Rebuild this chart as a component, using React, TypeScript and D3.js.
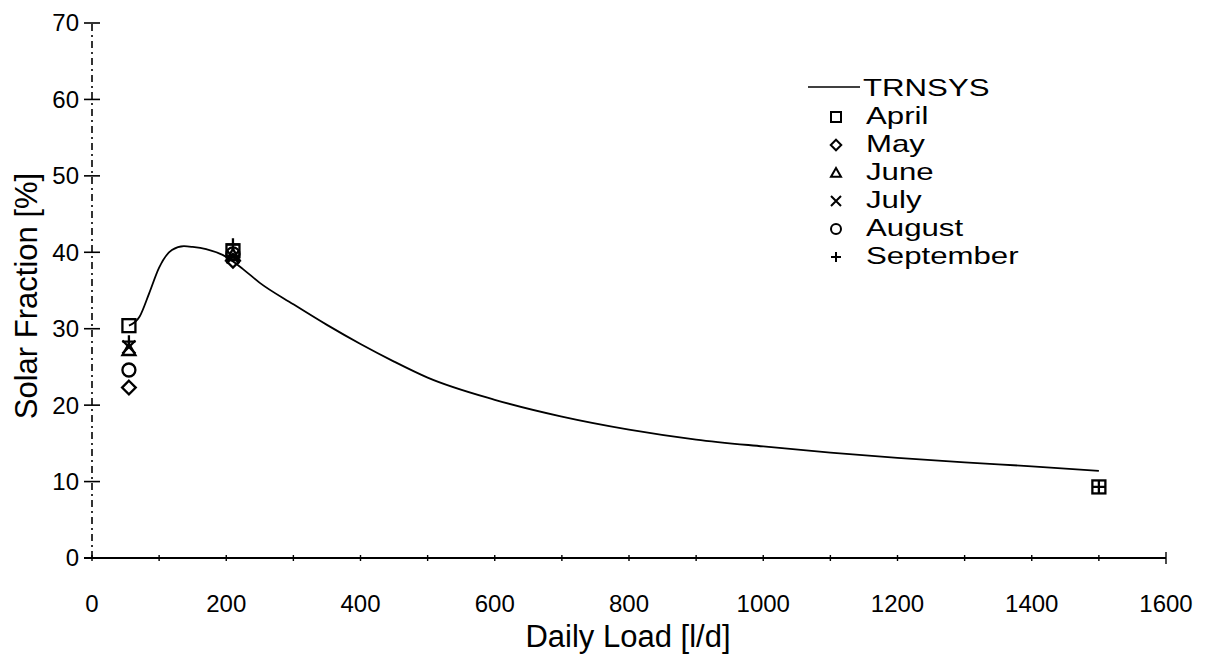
import React from "react";
import * as d3 from "d3";

// TRNSYS simulated curve (Daily Load [l/d] -> Solar Fraction [%])
const curveLoad = [55, 71, 85, 100, 119, 137, 150, 170, 200, 225, 250, 300, 350, 400, 450, 500, 600, 700, 800, 900, 1000, 1100, 1200, 1300, 1400, 1500];
const curveFraction = [30.4, 31.6, 34.6, 38.0, 40.3, 40.8, 40.7, 40.4, 39.4, 37.8, 36.0, 33.2, 30.5, 28.0, 25.7, 23.6, 20.7, 18.5, 16.8, 15.5, 14.6, 13.8, 13.1, 12.5, 12.0, 11.4];

// Measured points per month at the three tested loads (null = not shown)
const measuredLoads = [55, 210, 1500];
const months = ["April", "May", "June", "July", "August", "September"];
const aprilValues = [30.4, 40.2, 9.3];
const mayValues = [22.3, 38.9, null];
const juneValues = [27.2, 39.6, null];
const julyValues = [27.6, 39.4, null];
const augustValues = [24.6, 39.8, null];
const septemberValues = [28.3, 41.0, 9.3];

const xTickLabels = [0, 200, 400, 600, 800, 1000, 1200, 1400, 1600];
const xMinorTicks = d3.range(0, 1601, 100);
const yTickLabels = [0, 10, 20, 30, 40, 50, 60, 70];

const xTitle = "Daily Load [l/d]";
const yTitle = "Solar Fraction [%]";
const legendLine = "TRNSYS";

const monthValues = [aprilValues, mayValues, juneValues, julyValues, augustValues, septemberValues];
const monthSymbols = ["square", "diamond", "triangle", "cross", "circle", "plus"];

const FONT = "'Liberation Sans', Arial, sans-serif";

function Marker({ type, x, y, s, sw }: { type: string; x: number; y: number; s: number; sw: number }) {
  const h = s / 2;
  const common = { fill: "none", stroke: "#000", strokeWidth: sw };
  switch (type) {
    case "square":
      return <rect x={x - h} y={y - h} width={s} height={s} {...common} />;
    case "diamond":
      return <path d={`M${x},${y - h * 1.05}L${x + h * 1.05},${y}L${x},${y + h * 1.05}L${x - h * 1.05},${y}Z`} {...common} />;
    case "triangle":
      return <path d={`M${x},${y - h}L${x + h},${y + h * 0.75}L${x - h},${y + h * 0.75}Z`} {...common} />;
    case "cross":
      return <path d={`M${x - h},${y - h}L${x + h},${y + h}M${x + h},${y - h}L${x - h},${y + h}`} {...common} />;
    case "circle":
      return <circle cx={x} cy={y} r={h} {...common} />;
    case "plus":
      return <path d={`M${x - h},${y}L${x + h},${y}M${x},${y - h}L${x},${y + h}`} {...common} />;
    default:
      return null;
  }
}

export default function App() {
  const width = 1206;
  const height = 657;
  const x = d3.scaleLinear().domain([0, 1600]).range([92, 1166]);
  const y = d3.scaleLinear().domain([0, 70]).range([558, 23]);

  const line = d3
    .line<number>()
    .x((_, i) => x(curveLoad[i]))
    .y((d) => y(d))
    .curve(d3.curveMonotoneX);

  const legendX = 836;
  const legendY0 = 87;
  const legendStep = 28;
  const legendFont = 24;
  const legendStretch = 1.3;

  return (
    <svg
      width={width}
      height={height}
      style={{ position: "absolute", left: 0, top: 0, background: "#fff" }}
      fontFamily={FONT}
    >
      <rect width={width} height={height} fill="#fff" />
      {/* Y axis (broken, scanned look) */}
      <line x1={x(0)} x2={x(0)} y1={y(0)} y2={y(70)} stroke="#000" strokeWidth={1.6} strokeDasharray="7 4 2 4" />
      {yTickLabels.map((t) => (
        <g key={"yt" + t}>
          <line x1={x(0) - 8} x2={x(0) + 8} y1={y(t)} y2={y(t)} stroke="#000" strokeWidth={1.6} />
          <text x={x(0) - 13} y={y(t)} dy="0.35em" textAnchor="end" fontSize={24}>
            {t}
          </text>
        </g>
      ))}
      {/* X axis */}
      <line x1={x(0) - 8} x2={x(1600)} y1={y(0)} y2={y(0)} stroke="#000" strokeWidth={2} />
      {xMinorTicks.map((t) => (
        <line key={"xm" + t} x1={x(t)} x2={x(t)} y1={y(0) - (t === 1600 ? 6 : 3)} y2={y(0) + (t === 1600 ? 6 : 3)} stroke="#000" strokeWidth={1.4} />
      ))}
      {xTickLabels.map((t) => (
        <text key={"xt" + t} x={x(t)} y={612} textAnchor="middle" fontSize={24}>
          {t}
        </text>
      ))}
      <text x={628} y={647} textAnchor="middle" fontSize={31}>
        {xTitle}
      </text>
      <text transform={`translate(37,296) rotate(-90)`} textAnchor="middle" fontSize={31}>
        {yTitle}
      </text>

      {/* TRNSYS curve */}
      <path d={line(curveFraction) || ""} fill="none" stroke="#000" strokeWidth={1.8} />

      {/* Measured points */}
      {monthValues.map((vals, mi) =>
        vals.map((v, i) =>
          v == null ? null : (
            <Marker key={`m${mi}-${i}`} type={monthSymbols[mi]} x={x(measuredLoads[i])} y={y(v)} s={13} sw={2.3} />
          )
        )
      )}

      {/* Legend */}
      <line x1={808} x2={860} y1={legendY0} y2={legendY0} stroke="#000" strokeWidth={1.6} />
      <text transform={`translate(863,${legendY0}) scale(${legendStretch},1)`} dy="0.36em" fontSize={legendFont}>
        {legendLine}
      </text>
      {months.map((m, i) => {
        const ly = legendY0 + (i + 1) * legendStep;
        return (
          <g key={"lg" + m}>
            <Marker type={monthSymbols[i]} x={legendX} y={ly + 2} s={10} sw={2} />
            <text transform={`translate(866,${ly}) scale(${legendStretch},1)`} dy="0.36em" fontSize={legendFont}>
              {m}
            </text>
          </g>
        );
      })}
    </svg>
  );
}
